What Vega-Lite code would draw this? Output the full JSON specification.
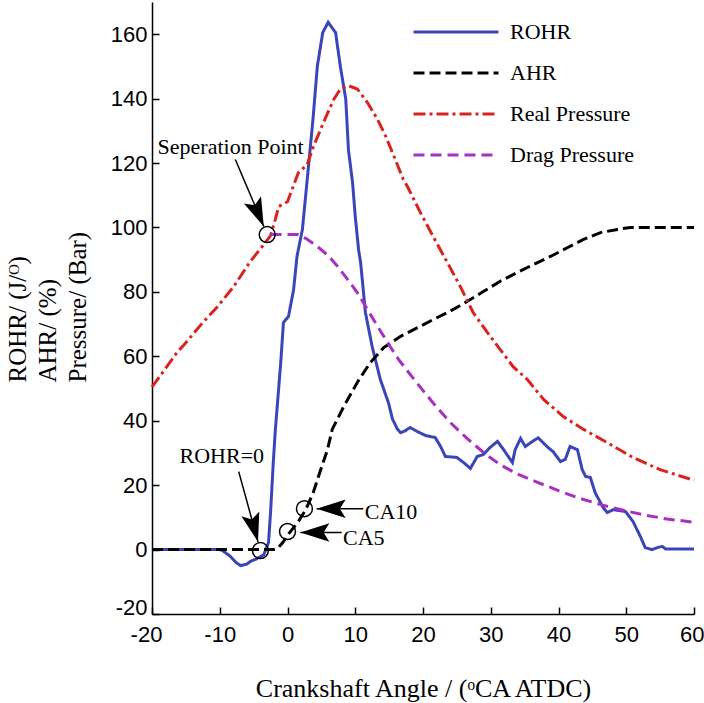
{
  "$schema": "https://vega.github.io/schema/vega-lite/v6.json",
  "width": 542,
  "height": 612,
  "autosize": {"type": "none"},
  "padding": {"left": 152, "top": 2, "right": 10, "bottom": 89},
  "background": "white",
  "config": {
    "view": {"stroke": null},
    "axis": {
      "domainColor": "black", "domainWidth": 1.5,
      "tickColor": "black", "tickWidth": 1.5, "tickSize": -7,
      "labelFont": "Liberation Sans", "labelFontSize": 22, "labelColor": "black",
      "labelFlush": false,
      "labelExpr": "datum.value < 0 ? '-' + abs(datum.value) : '' + datum.value",
      "grid": false,
      "titleFont": "Liberation Serif", "titleFontWeight": "normal", "titleColor": "black"
    }
  },
  "datasets": {
    "curves": [
      {"s":"ROHR","x":-20,"y":0},{"s":"ROHR","x":-10,"y":0},{"s":"ROHR","x":-9.6,"y":-0.3},{"s":"ROHR","x":-8.5,"y":-2},{"s":"ROHR","x":-7.5,"y":-4.2},{"s":"ROHR","x":-6.9,"y":-5},{"s":"ROHR","x":-6,"y":-4.5},{"s":"ROHR","x":-5.5,"y":-3.7},{"s":"ROHR","x":-4.5,"y":-2.8},{"s":"ROHR","x":-3.5,"y":-1.6},{"s":"ROHR","x":-2.8,"y":2.2},{"s":"ROHR","x":-2.5,"y":11.5},{"s":"ROHR","x":-2.1,"y":27},{"s":"ROHR","x":-1.8,"y":37},{"s":"ROHR","x":-1.0,"y":58},{"s":"ROHR","x":-0.6,"y":70.5},{"s":"ROHR","x":0.15,"y":72.4},{"s":"ROHR","x":0.9,"y":80.7},{"s":"ROHR","x":1.4,"y":91},{"s":"ROHR","x":2.2,"y":99.4},{"s":"ROHR","x":3.1,"y":119},{"s":"ROHR","x":3.8,"y":134.5},{"s":"ROHR","x":4.4,"y":150},{"s":"ROHR","x":5.2,"y":160.5},{"s":"ROHR","x":6.0,"y":163.7},{"s":"ROHR","x":7.1,"y":160.5},{"s":"ROHR","x":7.8,"y":150},{"s":"ROHR","x":8.6,"y":139.8},{"s":"ROHR","x":9.0,"y":124},{"s":"ROHR","x":9.6,"y":114},{"s":"ROHR","x":10.0,"y":103.4},{"s":"ROHR","x":10.5,"y":93},{"s":"ROHR","x":10.8,"y":89},{"s":"ROHR","x":11.5,"y":73.6},{"s":"ROHR","x":12.5,"y":63},{"s":"ROHR","x":13.7,"y":52.8},{"s":"ROHR","x":14.9,"y":45.6},{"s":"ROHR","x":15.5,"y":40.5},{"s":"ROHR","x":16.2,"y":37.5},{"s":"ROHR","x":16.7,"y":36.3},{"s":"ROHR","x":17.3,"y":36.8},{"s":"ROHR","x":18.1,"y":37.9},{"s":"ROHR","x":19.2,"y":36.6},{"s":"ROHR","x":20.4,"y":35.4},{"s":"ROHR","x":21.8,"y":34.8},{"s":"ROHR","x":22.6,"y":32},{"s":"ROHR","x":23.3,"y":28.9},{"s":"ROHR","x":25,"y":28.6},{"s":"ROHR","x":26,"y":27},{"s":"ROHR","x":27,"y":25.2},{"s":"ROHR","x":28,"y":28.9},{"s":"ROHR","x":28.9,"y":29.5},{"s":"ROHR","x":29.9,"y":31.7},{"s":"ROHR","x":31,"y":33.6},{"s":"ROHR","x":31.9,"y":31},{"s":"ROHR","x":33.2,"y":27},{"s":"ROHR","x":33.6,"y":31},{"s":"ROHR","x":34.4,"y":34.5},{"s":"ROHR","x":35.1,"y":32},{"s":"ROHR","x":36.1,"y":33.5},{"s":"ROHR","x":37,"y":34.7},{"s":"ROHR","x":38.3,"y":32},{"s":"ROHR","x":39.2,"y":30.4},{"s":"ROHR","x":40.3,"y":27.3},{"s":"ROHR","x":41,"y":28},{"s":"ROHR","x":41.7,"y":32},{"s":"ROHR","x":42.8,"y":31},{"s":"ROHR","x":43.5,"y":24.8},{"s":"ROHR","x":44,"y":22.7},{"s":"ROHR","x":44.7,"y":22.4},{"s":"ROHR","x":45.4,"y":17.7},{"s":"ROHR","x":46.6,"y":13},{"s":"ROHR","x":47.2,"y":11.5},{"s":"ROHR","x":48.1,"y":12.4},{"s":"ROHR","x":49.9,"y":11.8},{"s":"ROHR","x":51,"y":8.7},{"s":"ROHR","x":52.1,"y":4},{"s":"ROHR","x":52.8,"y":0.6},{"s":"ROHR","x":53.8,"y":0},{"s":"ROHR","x":54.6,"y":0.6},{"s":"ROHR","x":55.3,"y":1},{"s":"ROHR","x":55.8,"y":0.2},{"s":"ROHR","x":60,"y":0.2},
      {"s":"AHR","x":-20,"y":0},{"s":"AHR","x":-2,"y":0},{"s":"AHR","x":-1.5,"y":0.3},{"s":"AHR","x":-0.7,"y":2.2},{"s":"AHR","x":0.1,"y":4.7},{"s":"AHR","x":1.5,"y":8.4},{"s":"AHR","x":2.7,"y":12.4},{"s":"AHR","x":3.8,"y":17.7},{"s":"AHR","x":4.9,"y":24.8},{"s":"AHR","x":5.9,"y":31},{"s":"AHR","x":6.6,"y":37.3},{"s":"AHR","x":8.3,"y":44.4},{"s":"AHR","x":10.3,"y":51.9},{"s":"AHR","x":12.2,"y":58},{"s":"AHR","x":14.2,"y":62.7},{"s":"AHR","x":16.7,"y":66.2},{"s":"AHR","x":19.2,"y":68.9},{"s":"AHR","x":21.5,"y":71.4},{"s":"AHR","x":24,"y":74},{"s":"AHR","x":26.5,"y":77},{"s":"AHR","x":28.9,"y":80.1},{"s":"AHR","x":31.4,"y":83.3},{"s":"AHR","x":33.9,"y":86},{"s":"AHR","x":36.3,"y":88.5},{"s":"AHR","x":38.8,"y":91},{"s":"AHR","x":41.3,"y":93.7},{"s":"AHR","x":43.7,"y":96.3},{"s":"AHR","x":46.2,"y":98.4},{"s":"AHR","x":48.7,"y":99.4},{"s":"AHR","x":50.6,"y":100},{"s":"AHR","x":60,"y":100},
      {"s":"Real Pressure","x":-20,"y":50.5},{"s":"Real Pressure","x":-19.5,"y":51.9},{"s":"Real Pressure","x":-16.2,"y":61.5},{"s":"Real Pressure","x":-15.3,"y":63.5},{"s":"Real Pressure","x":-12.5,"y":70.5},{"s":"Real Pressure","x":-10.3,"y":75.5},{"s":"Real Pressure","x":-8,"y":81.5},{"s":"Real Pressure","x":-5.5,"y":89.4},{"s":"Real Pressure","x":-3.5,"y":94.7},{"s":"Real Pressure","x":-2.5,"y":97.5},{"s":"Real Pressure","x":-1.8,"y":102.5},{"s":"Real Pressure","x":-1.3,"y":106.5},{"s":"Real Pressure","x":0,"y":108},{"s":"Real Pressure","x":1.6,"y":117},{"s":"Real Pressure","x":2.9,"y":119.5},{"s":"Real Pressure","x":3.8,"y":125},{"s":"Real Pressure","x":5.3,"y":132.5},{"s":"Real Pressure","x":6.8,"y":139.7},{"s":"Real Pressure","x":7.8,"y":143},{"s":"Real Pressure","x":9.0,"y":144},{"s":"Real Pressure","x":10.3,"y":143},{"s":"Real Pressure","x":11.8,"y":138.8},{"s":"Real Pressure","x":13.3,"y":133.5},{"s":"Real Pressure","x":14.5,"y":128.3},{"s":"Real Pressure","x":15.5,"y":123.2},{"s":"Real Pressure","x":17.1,"y":114.9},{"s":"Real Pressure","x":17.7,"y":112.7},{"s":"Real Pressure","x":19.6,"y":104.7},{"s":"Real Pressure","x":21.5,"y":97.2},{"s":"Real Pressure","x":23.6,"y":89.1},{"s":"Real Pressure","x":25.5,"y":81.7},{"s":"Real Pressure","x":27.4,"y":73.6},{"s":"Real Pressure","x":29.5,"y":67.4},{"s":"Real Pressure","x":31.4,"y":62.1},{"s":"Real Pressure","x":33.3,"y":56.8},{"s":"Real Pressure","x":35.4,"y":52.8},{"s":"Real Pressure","x":37.8,"y":46.6},{"s":"Real Pressure","x":40.7,"y":41.3},{"s":"Real Pressure","x":43.7,"y":37.3},{"s":"Real Pressure","x":47.2,"y":33.2},{"s":"Real Pressure","x":51,"y":28.6},{"s":"Real Pressure","x":55,"y":24.8},{"s":"Real Pressure","x":60,"y":21.5},
      {"s":"Drag Pressure","x":-2.5,"y":97.8},{"s":"Drag Pressure","x":1.5,"y":97.8},{"s":"Drag Pressure","x":2.8,"y":96.5},{"s":"Drag Pressure","x":4.4,"y":94.1},{"s":"Drag Pressure","x":6,"y":91.3},{"s":"Drag Pressure","x":7.4,"y":87.9},{"s":"Drag Pressure","x":9,"y":83.5},{"s":"Drag Pressure","x":10.3,"y":79.8},{"s":"Drag Pressure","x":11.8,"y":74.5},{"s":"Drag Pressure","x":13.3,"y":69.3},{"s":"Drag Pressure","x":15,"y":63.5},{"s":"Drag Pressure","x":16.4,"y":59},{"s":"Drag Pressure","x":19,"y":52},{"s":"Drag Pressure","x":21.5,"y":45.5},{"s":"Drag Pressure","x":24,"y":39.5},{"s":"Drag Pressure","x":26.5,"y":34.5},{"s":"Drag Pressure","x":29,"y":30},{"s":"Drag Pressure","x":31.5,"y":26.2},{"s":"Drag Pressure","x":34,"y":23.4},{"s":"Drag Pressure","x":37,"y":20.8},{"s":"Drag Pressure","x":40,"y":18.3},{"s":"Drag Pressure","x":43,"y":16},{"s":"Drag Pressure","x":46.5,"y":13.8},{"s":"Drag Pressure","x":50,"y":12},{"s":"Drag Pressure","x":53,"y":10.6},{"s":"Drag Pressure","x":56,"y":9.5},{"s":"Drag Pressure","x":60,"y":8.5}
    ],
    "circles": [
      {"name":"Seperation Point","x":-3,"y":97.8},
      {"name":"ROHR=0","x":-4,"y":-0.3},
      {"name":"CA5","x":0,"y":5.6},
      {"name":"CA10","x":2.5,"y":12.7}
    ],
    "arrows": [
      {"id":"sep","x":-7.7,"y":121.1,"x2":-3.5,"y2":100.3},
      {"id":"rohr0","x":-7.2,"y":24.2,"x2":-4.35,"y2":2.4},
      {"id":"ca10","x":11.2,"y":12.7,"x2":4.3,"y2":12.7},
      {"id":"ca5","x":8.0,"y":5.3,"x2":1.9,"y2":5.3}
    ],
    "labels": [
      {"label":"Seperation Point","x":-8.4,"y":125},
      {"label":"ROHR=0","x":-9.7,"y":29},
      {"label":"CA10","x":11.4,"y":11.8},
      {"label":"CA5","x":8.2,"y":3.7}
    ]
  },
  "layer": [
    {
      "data": {"name": "curves"},
      "mark": {"type": "line", "strokeWidth": 3},
      "encoding": {
        "x": {
          "field": "x", "type": "quantitative",
          "scale": {"domain": [-20, 60], "nice": false},
          "axis": {
            "values": [-20, -10, 0, 10, 20, 30, 40, 50, 60],
            "labelPadding": 17,
            "labelAlign": {"condition": {"test": "datum.value == 60", "value": "right"}, "value": "center"},
            "labelOffset": {"condition": [{"test": "datum.value == 60", "value": 10}, {"test": "datum.value == -20", "value": -6}], "value": 0},
            "title": "Crankshaft Angle / (ᵒCA ATDC)",
            "titleFontSize": 26,
            "titleY": 82,
            "titleBaseline": "alphabetic"
          }
        },
        "y": {
          "field": "y", "type": "quantitative",
          "scale": {"domain": [-20, 170], "nice": false},
          "axis": {
            "values": [-20, 0, 20, 40, 60, 80, 100, 120, 140, 160],
            "labelPadding": 12,
            "labelBaseline": {"condition": {"test": "datum.value == -20", "value": "bottom"}, "value": "middle"},
            "labelOffset": {"condition": {"test": "datum.value == -20", "value": 5}, "value": 0},
            "title": ["ROHR/ (J/ᴼ)", "AHR/ (%)", "Pressure/ (Bar)"],
            "titleFontSize": 25,
            "titleAngle": -90,
            "titleAlign": "left",
            "titleBaseline": "alphabetic",
            "titleLineHeight": 30,
            "titleX": -127,
            "titleY": 380
          }
        },
        "color": {
          "field": "s", "type": "nominal",
          "scale": {"domain": ["ROHR", "AHR", "Real Pressure", "Drag Pressure"], "range": ["#3a45b8", "#000000", "#d8231e", "#a830c0"]},
          "legend": {
            "orient": "none", "legendX": 260, "legendY": 10, "title": null,
            "symbolType": "stroke", "symbolSize": 7225, "symbolStrokeWidth": 3,
            "labelFont": "Liberation Serif", "labelFontSize": 22, "labelColor": "black",
            "labelOffset": 10, "clipHeight": 40, "rowPadding": 1, "padding": 0
          }
        },
        "strokeDash": {
          "field": "s", "type": "nominal",
          "scale": {"domain": ["ROHR", "AHR", "Real Pressure", "Drag Pressure"], "range": [[1, 0], [11, 5], [12, 4, 3, 4], [11, 6]]},
          "legend": {
            "orient": "none", "legendX": 260, "legendY": 10, "title": null,
            "symbolType": "stroke", "symbolSize": 7225, "symbolStrokeWidth": 3,
            "labelFont": "Liberation Serif", "labelFontSize": 22, "labelColor": "black",
            "labelOffset": 10, "clipHeight": 40, "rowPadding": 1, "padding": 0
          }
        }
      }
    },
    {
      "data": {"name": "circles"},
      "mark": {"type": "point", "shape": "circle", "size": 254, "filled": false, "stroke": "black", "strokeWidth": 1.5, "opacity": 1},
      "encoding": {
        "x": {"field": "x", "type": "quantitative"},
        "y": {"field": "y", "type": "quantitative"}
      }
    },
    {
      "data": {"name": "arrows"},
      "mark": {"type": "rule", "color": "black", "strokeWidth": 1.5},
      "encoding": {
        "x": {"field": "x", "type": "quantitative"},
        "y": {"field": "y", "type": "quantitative"},
        "x2": {"field": "x2"},
        "y2": {"field": "y2"}
      }
    },
    {
      "data": {"name": "arrows"},
      "transform": [{"filter": "datum.id == 'sep'"}],
      "mark": {"type": "point", "shape": "M0,0 L0.32,1 L0,0.8 L-0.32,1 Z", "size": 3364, "filled": true, "color": "black", "opacity": 1, "angle": 157},
      "encoding": {
        "x": {"field": "x2", "type": "quantitative"},
        "y": {"field": "y2", "type": "quantitative"}
      }
    },
    {
      "data": {"name": "arrows"},
      "transform": [{"filter": "datum.id == 'rohr0'"}],
      "mark": {"type": "point", "shape": "M0,0 L0.32,1 L0,0.8 L-0.32,1 Z", "size": 3364, "filled": true, "color": "black", "opacity": 1, "angle": 164.6},
      "encoding": {
        "x": {"field": "x2", "type": "quantitative"},
        "y": {"field": "y2", "type": "quantitative"}
      }
    },
    {
      "data": {"name": "arrows"},
      "transform": [{"filter": "datum.id == 'ca10' || datum.id == 'ca5'"}],
      "mark": {"type": "point", "shape": "M0,0 L0.32,1 L0,0.8 L-0.32,1 Z", "size": 3364, "filled": true, "color": "black", "opacity": 1, "angle": 270},
      "encoding": {
        "x": {"field": "x2", "type": "quantitative"},
        "y": {"field": "y2", "type": "quantitative"}
      }
    },
    {
      "data": {"name": "labels"},
      "transform": [{"filter": "datum.label == 'Seperation Point' || datum.label == 'ROHR=0'"}],
      "mark": {"type": "text", "font": "Liberation Serif", "fontSize": 22, "color": "black", "align": "center", "baseline": "middle"},
      "encoding": {
        "x": {"field": "x", "type": "quantitative"},
        "y": {"field": "y", "type": "quantitative"},
        "text": {"field": "label"}
      }
    },
    {
      "data": {"name": "labels"},
      "transform": [{"filter": "datum.label == 'CA10' || datum.label == 'CA5'"}],
      "mark": {"type": "text", "font": "Liberation Serif", "fontSize": 22, "color": "black", "align": "left", "baseline": "middle"},
      "encoding": {
        "x": {"field": "x", "type": "quantitative"},
        "y": {"field": "y", "type": "quantitative"},
        "text": {"field": "label"}
      }
    }
  ]
}
